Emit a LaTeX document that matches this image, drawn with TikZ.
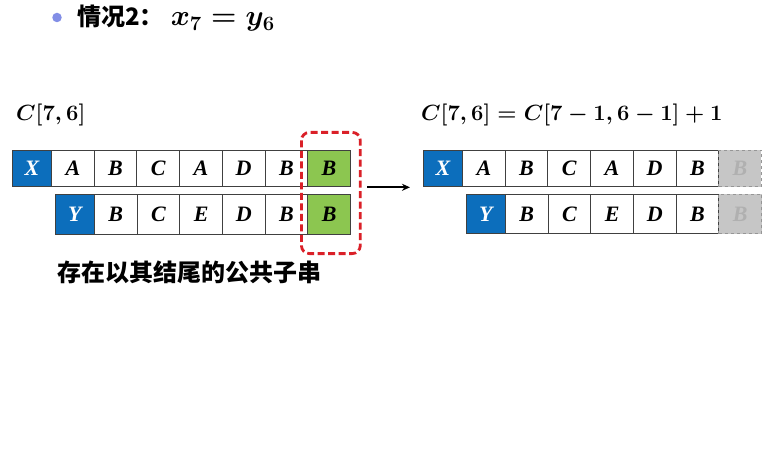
\RequirePackage{fix-cm}
\documentclass[tikz,border=0pt]{standalone}
\usepackage{amsmath}
\usepackage{fontspec}
\setmainfont{Liberation Serif}
\newfontfamily\cjk{Noto Sans CJK SC}
\usetikzlibrary{arrows.meta}
\definecolor{cellblue}{RGB}{12,110,188}
\definecolor{cellgreen}{RGB}{140,198,80}
\definecolor{bulletc}{RGB}{130,142,230}
\definecolor{dashred}{RGB}{218,32,40}
\definecolor{ghostfill}{RGB}{198,198,198}
\definecolor{ghostline}{RGB}{150,150,150}
\definecolor{ghosttext}{RGB}{176,176,176}
\newcommand\mytitletext{{\cjk\bfseries 情况2：}\hspace{7pt}{\fontsize{29}{33}\selectfont\boldmath$x_7=y_6$}}
\newcommand\myleftformula{{\boldmath$C[7,6]$}}
\newcommand\myrightformula{{\boldmath$C[7,6]=C[7-1,6-1]+1$}}
\newcommand\mycaptiontext{{\cjk\bfseries 存在以其结尾的公共子串}}
\tikzset{
  cellbox/.style={draw=black!75, line width=0.9pt, inner sep=0pt, outer sep=0pt,
    anchor=north west, minimum width=42.7pt,
    font=\fontsize{22}{24}\selectfont\bfseries\itshape},
  rowone/.style={minimum height=36.7pt},
  rowtwo/.style={minimum height=39.7pt},
  headcell/.style={fill=cellblue, text=white, minimum width=39.2pt},
  matchcell/.style={fill=cellgreen},
  ghostcell/.style={fill=ghostfill, draw=ghostline, dashed, text=ghosttext},
  mathlabel/.style={anchor=west, inner sep=0pt, font=\fontsize{22}{26}\selectfont},
  titlelabel/.style={anchor=west, inner sep=0pt, font=\fontsize{24}{28}\selectfont},
  cjklabel/.style={anchor=west, inner sep=0pt, font=\fontsize{24}{28}\selectfont},
}
\begin{document}
\begin{tikzpicture}[x=1pt,y=-1pt]
\useasboundingbox (0,0) rectangle (766,476);
\node[circle, fill=bulletc, inner sep=0pt, minimum size=9.5pt] (bullet) at (57,17.5) {};
\node[titlelabel] (title) at (77,18.5) {\mytitletext};
\node[mathlabel] (lefttitle) at (16,115) {\myleftformula};
\node[mathlabel] (righttitle) at (421,115) {\myrightformula};
\node[cellbox, rowone, headcell] (L1c0) at (12.3,150) {X};
\foreach \t/\i/\p in {A/1/0,B/2/1,C/3/2,A/4/3,D/5/4,B/6/5}
  \node[cellbox, rowone] (L1c\i) at (L1c\p.north east) {\t};
\node[cellbox, rowone, matchcell] (L1c7) at (L1c6.north east) {B};
\node[cellbox, rowtwo, headcell] (L2c0) at (55.2,194.3) {Y};
\foreach \t/\i/\p in {B/1/0,C/2/1,E/3/2,D/4/3,B/5/4}
  \node[cellbox, rowtwo] (L2c\i) at (L2c\p.north east) {\t};
\node[cellbox, rowtwo, matchcell] (L2c6) at (L2c5.north east) {B};
\node[cellbox, rowone, headcell] (R1c0) at (423.3,150) {X};
\foreach \t/\i/\p in {A/1/0,B/2/1,C/3/2,A/4/3,D/5/4,B/6/5}
  \node[cellbox, rowone] (R1c\i) at (R1c\p.north east) {\t};
\node[cellbox, rowone, ghostcell] (R1c7) at (R1c6.north east) {B};
\node[cellbox, rowtwo, headcell] (R2c0) at (466.2,194) {Y};
\foreach \t/\i/\p in {B/1/0,C/2/1,E/3/2,D/4/3,B/5/4}
  \node[cellbox, rowtwo] (R2c\i) at (R2c\p.north east) {\t};
\node[cellbox, rowtwo, ghostcell] (R2c6) at (R2c5.north east) {B};
\draw[dashred, line width=2.8pt, dash pattern=on 7pt off 3.5pt, rounded corners=8pt]
  (301.4,132.4) rectangle (360.3,253.6);
\coordinate (arrowstart) at (367,187.3);
\coordinate (arrowend) at (410,187.3);
\draw[line width=1.8pt, -{Stealth[length=8pt,width=7pt]}] (arrowstart) -- (arrowend);
\node[cjklabel] (caption) at (57,272.5) {\mycaptiontext};
\end{tikzpicture}
\end{document}
